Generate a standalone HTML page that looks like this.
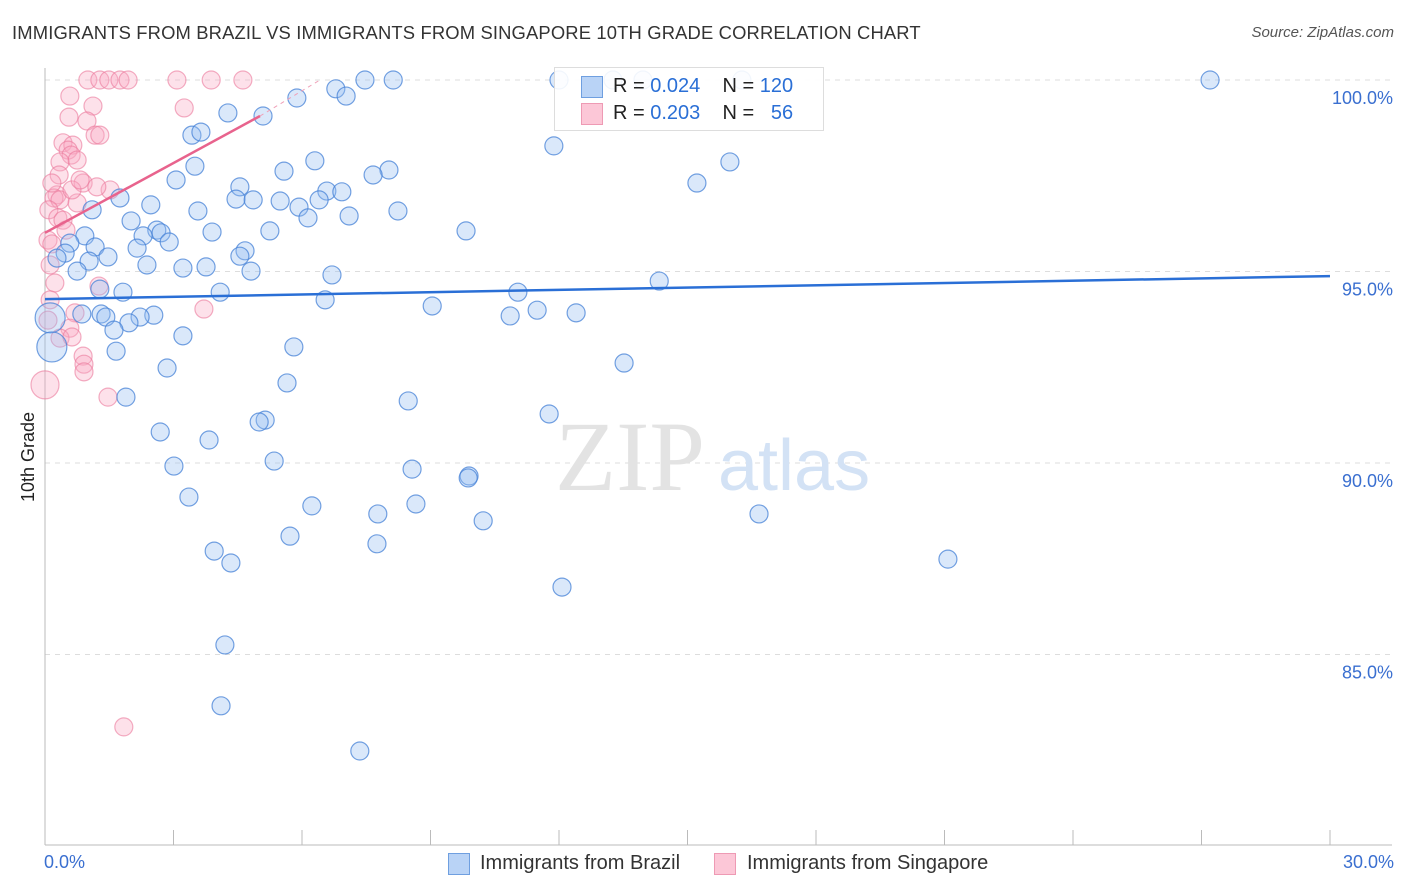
<!DOCTYPE html>
<html><head><meta charset="utf-8"><style>
body{margin:0;background:#fff;font-family:"Liberation Sans",sans-serif}
#wrap{position:relative;width:1406px;height:892px;overflow:hidden}
.t{position:absolute;white-space:nowrap}
</style></head><body>
<div id="wrap">
<div class="t" style="left:12px;top:22px;font-size:18.4px;color:#333;letter-spacing:0.15px">IMMIGRANTS FROM BRAZIL VS IMMIGRANTS FROM SINGAPORE 10TH GRADE CORRELATION CHART</div>
<div class="t" style="right:12px;top:24px;font-size:15px;color:#555;font-style:italic">Source: ZipAtlas.com</div>
<div class="t" style="font-size:18px;color:#222;transform:rotate(-90deg);transform-origin:left top;top:502px;left:18px">10th Grade</div>
<svg id="svg" width="1406" height="892" style="position:absolute;left:0;top:0"></svg>
</div>
<script>
const blueX=[27.20,12.00,7.47,8.13,13.26,13.96,16.27,6.79,7.03,5.88,5.09,4.27,3.43,3.64,11.88,15.99,6.30,3.50,5.58,8.03,7.66,3.06,15.22,4.55,6.58,6.93,1.75,4.46,4.86,5.49,6.40,2.47,1.10,3.57,5.93,8.24,7.10,6.14,2.01,9.83,3.90,5.25,2.61,2.71,0.93,2.29,2.90,0.58,2.15,1.17,4.67,0.47,1.47,0.28,4.55,1.03,2.38,3.22,3.76,0.75,4.81,6.70,14.34,11.04,1.82,1.28,4.09,6.54,9.04,11.49,10.86,12.40,1.31,0.86,2.54,1.42,2.22,1.96,1.61,3.22,5.81,1.66,13.52,2.85,5.65,1.89,8.48,11.77,5.14,5.00,2.69,3.83,5.35,3.01,8.57,9.90,9.88,3.36,6.23,8.66,7.77,10.23,16.67,5.72,3.95,7.75,4.34,21.08,12.07,4.20,4.11,7.35,0.12,0.16];
const blueY=[100,100,100,100,100,100,100,99.77,99.58,99.53,99.06,99.14,98.56,98.64,98.28,97.86,97.89,97.75,97.62,97.65,97.52,97.39,97.31,97.21,97.10,97.08,96.92,96.89,96.87,96.84,96.87,96.74,96.61,96.58,96.68,96.58,96.45,96.40,96.32,96.06,96.03,96.06,96.08,96.01,95.93,95.93,95.77,95.74,95.61,95.64,95.54,95.48,95.38,95.35,95.40,95.27,95.17,95.09,95.12,95.01,95.01,94.91,94.75,94.46,94.46,94.54,94.46,94.26,94.10,93.99,93.84,93.92,93.89,93.89,93.86,93.81,93.81,93.66,93.47,93.32,93.03,92.92,92.61,92.48,92.09,91.72,91.62,91.28,91.12,91.07,90.81,90.60,90.05,89.92,89.84,89.66,89.61,89.11,88.88,88.93,88.67,88.49,88.67,88.09,87.70,87.89,87.39,87.49,86.76,85.25,83.66,82.48,93.79,93.03];
const blueBig=[112,113];
const pinkX=[1.00,1.28,1.49,1.75,1.94,3.08,3.88,4.62,0.58,3.25,1.12,0.56,0.98,1.17,1.28,0.42,0.65,0.54,0.61,0.75,0.35,0.33,0.89,1.52,0.28,0.21,0.35,0.75,0.09,0.30,0.42,0.07,0.16,0.12,0.23,1.26,3.71,0.70,0.58,0.35,0.63,0.89,0.91,0.91,1.47,1.84,0.00,0.12,0.07,0.63,1.21,0.16,0.49,0.82];
const pinkY=[100,100,100,100,100,100,100,100,99.58,99.27,99.32,99.03,98.93,98.56,98.56,98.36,98.30,98.17,98.04,97.91,97.86,97.52,97.31,97.13,97.00,96.92,96.87,96.79,96.61,96.40,96.34,95.82,95.72,95.17,94.70,94.62,94.02,93.92,93.52,93.26,93.29,92.79,92.58,92.38,91.72,83.11,92.04,94.26,93.73,97.13,97.21,97.31,96.08,97.39];
const pinkBig=[46];
const yTicks=[100,95,90,85];
const yTickLabels=["100.0%","95.0%","90.0%","85.0%"];
const blueTrend=[[0,94.28],[30,94.88]];
const pinkTrend=[[0,96.01],[5.02,99.06]];
const pinkTrendDash=[[5.02,99.06],[6.42,100]];

const X=v=>45+v*42.833, Y=v=>80+(100-v)*38.3;
const svg=document.getElementById('svg'),NS='http://www.w3.org/2000/svg';
function mk(tag,at,parent){const e=document.createElementNS(NS,tag);for(const k in at)e.setAttribute(k,at[k]);(parent||svg).appendChild(e);return e;}
yTicks.forEach((t,i)=>{
 const g=mk('line',{x1:45,x2:1392,y1:Y(t),y2:Y(t),stroke:'#ddd','stroke-dasharray':'5,5'});
 
 
 const tx=mk('text',{x:1393,y:Y(t)+24,'text-anchor':'end','font-size':18,fill:'#3a6fd0','font-family':'Liberation Sans, sans-serif'});
 tx.textContent=yTickLabels[i];
 
 
});
let a=mk('line',{x1:45,x2:45,y1:68,y2:845,stroke:'#bbb'});


a=mk('line',{x1:45,x2:1392,y1:845,y2:845,stroke:'#bbb'});


for(let i=0;i<=10;i++){const tk=mk('line',{x1:X(i*3),x2:X(i*3),y1:830,y2:845,stroke:'#bbb'});
 
 }
let w=mk('text',{x:555,y:490,'font-size':100,fill:'#e3e3e3','font-family':'Liberation Serif, serif'});w.textContent='ZIP';


w=mk('text',{x:718,y:490,'font-size':72,fill:'#d3e2f5','font-family':'Liberation Sans, sans-serif'});w.textContent='atlas';


pinkX.forEach((x,i)=>{const c=mk('circle',{cx:X(x),cy:Y(pinkY[i]),r:pinkBig.includes(i)?14:9,fill:'rgba(248,170,195,0.35)',stroke:'rgba(235,120,155,0.6)','stroke-width':1.2});
 
 });
blueX.forEach((x,i)=>{const c=mk('circle',{cx:X(x),cy:Y(blueY[i]),r:blueBig.includes(i)?15:9,fill:'rgba(150,190,240,0.35)',stroke:'rgba(70,130,215,0.75)','stroke-width':1.2});
 
 });
let l=mk('line',{x1:X(blueTrend[0][0]),y1:Y(blueTrend[0][1]),x2:X(blueTrend[1][0]),y2:Y(blueTrend[1][1]),stroke:'#2a6fd6','stroke-width':2.5});


l=mk('line',{x1:X(pinkTrend[0][0]),y1:Y(pinkTrend[0][1]),x2:X(pinkTrend[1][0]),y2:Y(pinkTrend[1][1]),stroke:'#e8638d','stroke-width':2.5});


l=mk('line',{x1:X(pinkTrendDash[0][0]),y1:Y(pinkTrendDash[0][1]),x2:X(pinkTrendDash[1][0]),y2:Y(pinkTrendDash[1][1]),stroke:'#f0a0b8','stroke-width':1,'stroke-dasharray':'4,4'});


</script>
<div class="t" style="left:44px;top:852px;font-size:18px;color:#3a6fd0">0.0%</div>
<div class="t" style="right:12px;top:852px;font-size:18px;color:#3a6fd0">30.0%</div>
<div style="position:absolute;left:554px;top:67px;width:268px;height:62px;border:1px solid #ddd;background:rgba(255,255,255,0.9)">
 <div style="position:absolute;left:26px;top:8px;width:20px;height:20px;background:#b9d3f6;border:1px solid #6f9fe0"></div>
 <div style="position:absolute;left:26px;top:35px;width:20px;height:20px;background:#fcc7d7;border:1px solid #ee9ab4"></div>
 <div class="t" style="left:58px;top:7px;font-size:20px;color:#222">R = <span style="color:#2a6fd6">0.024</span>&nbsp;&nbsp;&nbsp; N = <span style="color:#2a6fd6">120</span></div>
 <div class="t" style="left:58px;top:34px;font-size:20px;color:#222">R = <span style="color:#2a6fd6">0.203</span>&nbsp;&nbsp;&nbsp; N = &nbsp;&nbsp;<span style="color:#2a6fd6">56</span></div>
</div>
<div style="position:absolute;left:448px;top:853px;width:20px;height:20px;background:#b9d3f6;border:1px solid #6f9fe0"></div>
<div class="t" style="left:480px;top:852px;font-size:20px;color:#333">Immigrants from Brazil</div>
<div style="position:absolute;left:714px;top:853px;width:20px;height:20px;background:#fcc7d7;border:1px solid #ee9ab4"></div>
<div class="t" style="left:747px;top:852px;font-size:20px;color:#333">Immigrants from Singapore</div>
</body></html>
